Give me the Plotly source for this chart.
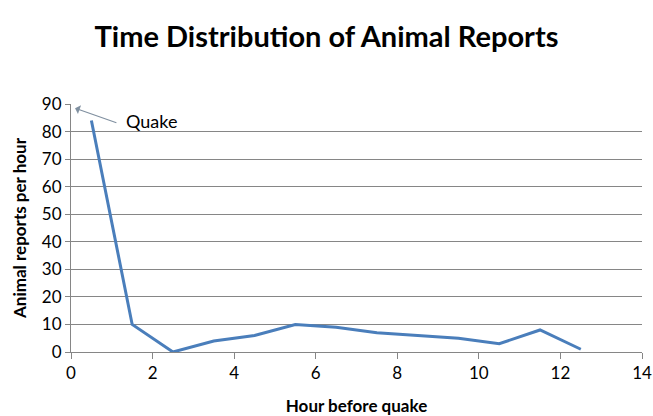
import plotly.graph_objects as go

hours = [0.5, 1.5, 2.5, 3.5, 4.5, 5.5, 6.5, 7.5, 8.5, 9.5, 10.5, 11.5, 12.5]
reports = [84, 10, 0, 4, 6, 10, 9, 7, 6, 5, 3, 8, 1]
title = "Time Distribution of Animal Reports"
x_title = "Hour before quake"
y_title = "Animal reports per hour"
quake_label = "Quake"

font = "Lato, Open Sans, sans-serif"

fig = go.Figure()
fig.add_trace(go.Scatter(x=hours, y=reports, mode="lines",
                         line=dict(color="#4A7EBB", width=3), showlegend=False))

fig.add_annotation(x=0.1, y=88.5, ax=1.15, ay=83.0, xref="x", yref="y", axref="x", ayref="y",
                   text="", showarrow=True, arrowhead=1, arrowsize=1.3, arrowwidth=1.2,
                   arrowcolor="#8090A0")
fig.add_annotation(x=1.3, y=84, xref="x", yref="y", text=quake_label, showarrow=False,
                   xanchor="left", font=dict(family=font, size=18, color="#000"))

fig.update_layout(
    width=653, height=416,
    margin=dict(l=71, r=11, t=104, b=64, autoexpand=False),
    paper_bgcolor="white", plot_bgcolor="white",
    title=dict(text="<b>" + title + "</b>", x=0.5, xanchor="center", y=0.911, yanchor="middle",
               font=dict(family=font, size=29, color="#000")),
    xaxis=dict(range=[0, 14], dtick=2, tick0=0, showgrid=False, zeroline=False,
               showline=True, linecolor="#868686", linewidth=1, automargin=False,
               ticks="outside", ticklen=6, tickcolor="#868686",
               tickfont=dict(family=font, size=17, color="#000"),
               title=dict(text="<b>" + x_title + "</b>", font=dict(family=font, size=17, color="#000"),
                          standoff=27)),
    yaxis=dict(range=[0, 90], dtick=10, showgrid=True, gridcolor="#868686", gridwidth=1,
               zeroline=False, showline=True, linecolor="#868686", linewidth=1, automargin=False,
               ticks="outside", ticklen=5, tickcolor="#868686",
               tickfont=dict(family=font, size=17, color="#000"),
               title=dict(text="<b>" + y_title + "</b>", font=dict(family=font, size=17, color="#000"),
                          standoff=10)),
)

fig.write_html("out.html", config={"displayModeBar": False},
               post_script="document.body.style.margin='0';document.body.style.overflow='hidden';")
